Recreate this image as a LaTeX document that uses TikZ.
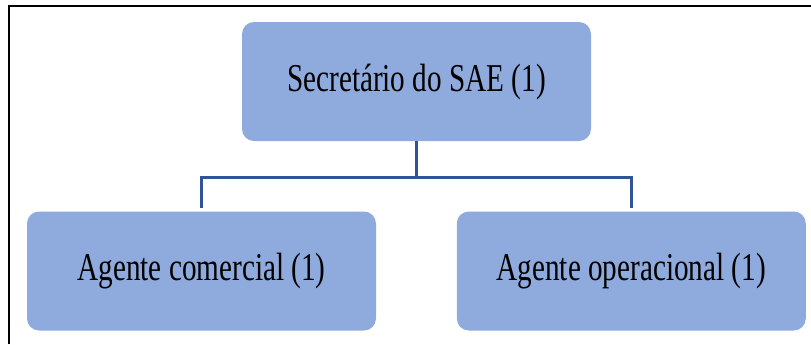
\documentclass[tikz,border=0pt]{standalone}
\usepackage{fontspec}
\setmainfont{Liberation Serif}
\usetikzlibrary{positioning}
\definecolor{boxfill}{HTML}{8FAADC}
\definecolor{linkblue}{HTML}{2F5597}
\tikzset{x=0.5pt,y=-0.5pt,
  unit/.style={fill=boxfill,rounded corners=6pt,minimum width=174.5pt,minimum height=59.5pt,
    inner sep=0pt,font=\fontsize{14.6}{17}\selectfont},
  link/.style={draw=linkblue,line width=1.5pt}}

\begin{document}
\begin{tikzpicture}
        \useasboundingbox (0,0) rectangle (811,344);
        \draw [line width=1pt] (9,344) -- (9,6) -- (811,6);

        \node [unit] (sec) at (416.5,81.5) {\scalebox{1}[1.35]{Secretário do SAE (1)}};
        \node [unit] (com) at (201.5,271) {\scalebox{1}[1.35]{Agente comercial (1)}};
        \node [unit] (ope) [right=40pt of com] {\scalebox{1}[1.35]{Agente operacional (1)}};

        \coordinate (split) at (416.5,177);
        \draw [link] (sec.south) -- (split);
        \draw [link,shorten >=1.5pt] (split) -| (com.north);
        \draw [link,shorten >=1.5pt] (split) -| (ope.north);
      \end{tikzpicture}
\end{document}
